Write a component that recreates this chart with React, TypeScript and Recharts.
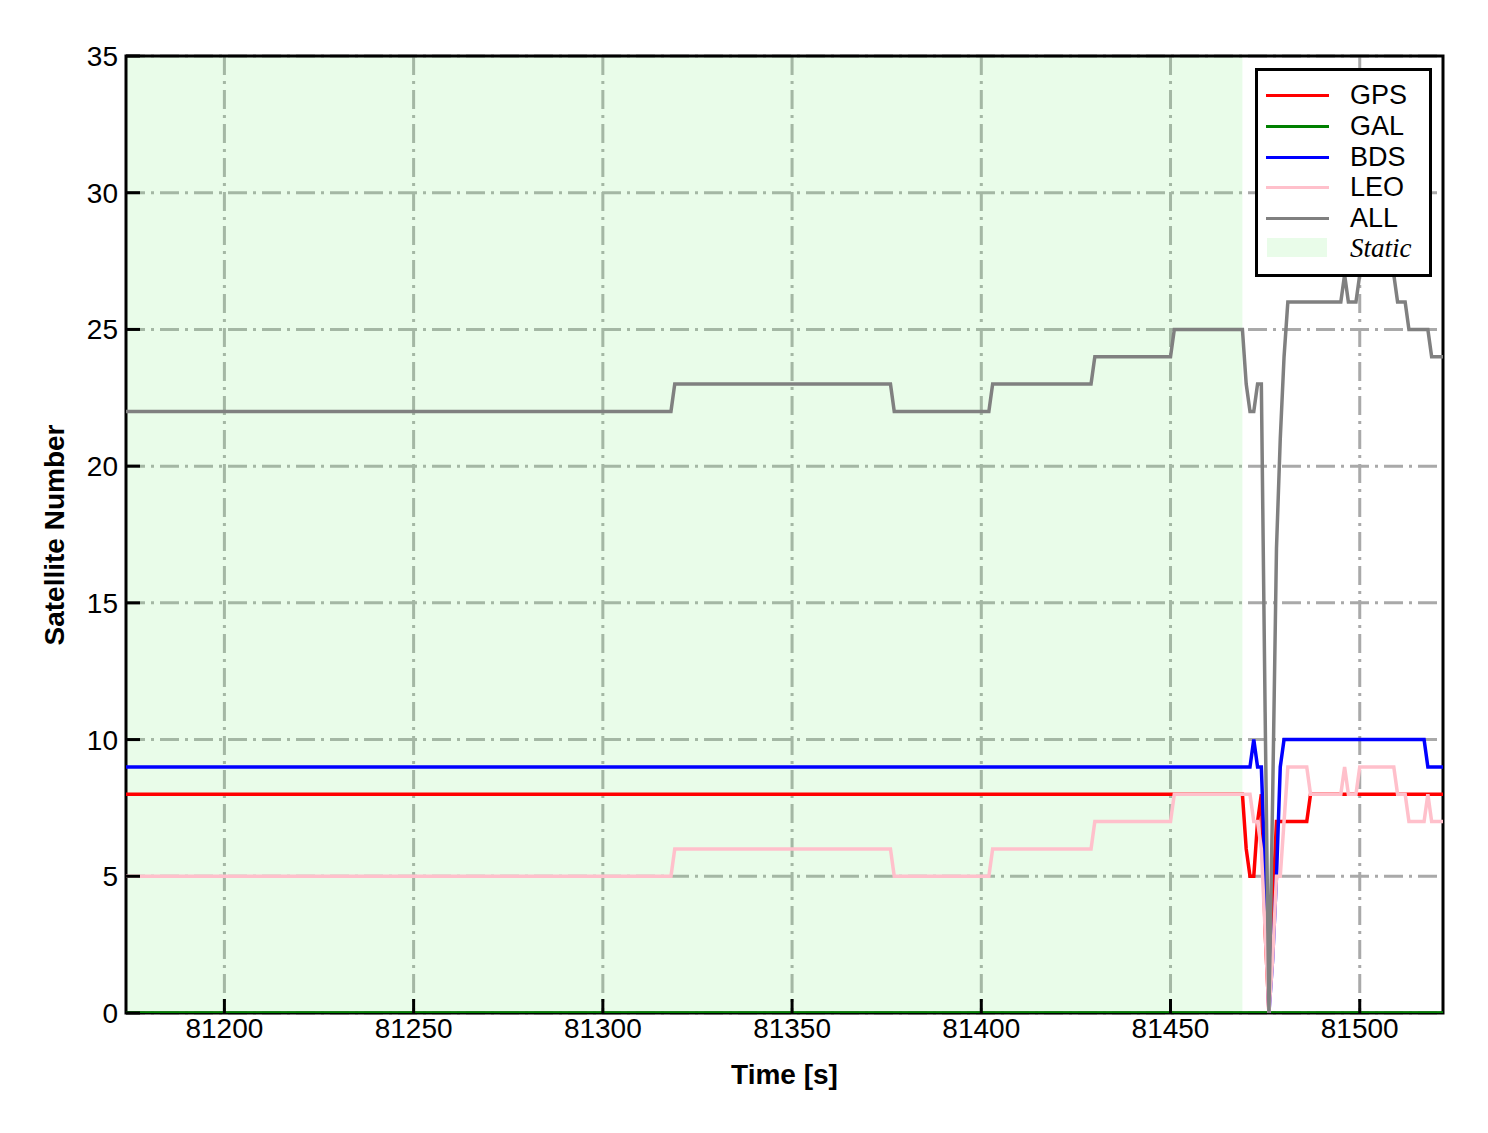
import React from 'react';
import {
  LineChart,
  Line,
  XAxis,
  YAxis,
  CartesianGrid,
  ReferenceArea,
} from 'recharts';

// [time (s), satellite count], one point per change
const gpsPoints: [number, number][] = [
  [81174, 8], [81469, 8], [81470, 6], [81471, 5], [81472, 5], [81473, 7], [81474, 8],
  [81475, 3], [81476, 0], [81477, 4], [81478, 7], [81486, 7], [81487, 8], [81522, 8],
];

const galPoints: [number, number][] = [
  [81174, 0], [81522, 0],
];

const bdsPoints: [number, number][] = [
  [81174, 9], [81471, 9], [81472, 10], [81473, 9], [81474, 9], [81475, 5], [81476, 0],
  [81477, 2], [81478, 5], [81479, 9], [81480, 10], [81517, 10], [81518, 9], [81522, 9],
];

const leoPoints: [number, number][] = [
  [81174, 5], [81318, 5], [81319, 6], [81376, 6], [81377, 5], [81402, 5], [81403, 6],
  [81429, 6], [81430, 7], [81450, 7], [81451, 8], [81471, 8], [81472, 7], [81473, 7],
  [81474, 6], [81475, 3], [81476, 0], [81477, 2], [81478, 5], [81479, 5], [81480, 7],
  [81481, 9], [81486, 9], [81487, 8], [81495, 8], [81496, 9], [81497, 8], [81499, 8],
  [81500, 9], [81509, 9], [81510, 8], [81512, 8], [81513, 7], [81517, 7], [81518, 8],
  [81519, 7], [81522, 7],
];

const allPoints: [number, number][] = [
  [81174, 22], [81318, 22], [81319, 23], [81376, 23], [81377, 22], [81402, 22], [81403, 23],
  [81429, 23], [81430, 24], [81450, 24], [81451, 25], [81469, 25], [81470, 23], [81471, 22],
  [81472, 22], [81473, 23], [81474, 23], [81475, 11], [81476, 0], [81477, 8], [81478, 17],
  [81479, 21], [81480, 24], [81481, 26], [81495, 26], [81496, 27], [81497, 26], [81499, 26],
  [81500, 27], [81509, 27], [81510, 26], [81512, 26], [81513, 25], [81518, 25], [81519, 24],
  [81522, 24],
];

const timeRange = [81174, 81522];
const staticRange = [81174, 81469];
const timeTicks = [81200, 81250, 81300, 81350, 81400, 81450, 81500];
const countTicks = [0, 5, 10, 15, 20, 25, 30, 35];

const series = [
  { name: 'GPS', color: '#ff0000', points: gpsPoints },
  { name: 'GAL', color: '#008000', points: galPoints },
  { name: 'BDS', color: '#0000ff', points: bdsPoints },
  { name: 'LEO', color: '#ffc0cb', points: leoPoints },
  { name: 'ALL', color: '#808080', points: allPoints },
];

const FONT = '"Liberation Sans", Arial, Helvetica, sans-serif';
const TICK_LEN = 14;

const toRows = (pts: [number, number][]) => pts.map(([t, n]) => ({ t, n }));

const XTick = ({ x, y, payload }: any) => (
  <g>
    <line x1={x} y1={y - 5} x2={x} y2={y - 5 - TICK_LEN} stroke="#000" strokeWidth={3} />
    <text x={x} y={y} dy="0.71em" textAnchor="middle" fontSize={28} fill="#000" fontFamily={FONT}>
      {payload.value}
    </text>
  </g>
);

const YTick = ({ x, y, payload }: any) => (
  <g>
    <line x1={x + 8} y1={y} x2={x + 8 + TICK_LEN} y2={y} stroke="#000" strokeWidth={3} />
    <text x={x} y={y} dy="0.355em" textAnchor="end" fontSize={28} fill="#000" fontFamily={FONT}>
      {payload.value}
    </text>
  </g>
);

const Legend = () => (
  <div
    style={{
      position: 'absolute',
      left: 1255,
      top: 68,
      width: 177,
      height: 209,
      boxSizing: 'border-box',
      border: '3px solid #000',
      background: '#fff',
    }}
  >
    {series.map((s, i) => (
      <div key={s.name} style={{ position: 'absolute', left: 0, top: 9 + i * 30.8, height: 30, width: 171 }}>
        <div style={{ position: 'absolute', left: 8, top: 14, width: 63, height: 3, background: s.color }} />
        <span
          style={{
            position: 'absolute',
            left: 92,
            top: 0,
            fontSize: 27,
            lineHeight: '30px',
            fontFamily: FONT,
            color: '#000',
          }}
        >
          {s.name}
        </span>
      </div>
    ))}
    <div style={{ position: 'absolute', left: 9, top: 167, width: 60, height: 19, background: '#e9fce9' }} />
    <span
      style={{
        position: 'absolute',
        left: 92,
        top: 162,
        fontSize: 27,
        lineHeight: '30px',
        fontFamily: '"Liberation Serif", "Times New Roman", serif',
        fontStyle: 'italic',
        color: '#000',
      }}
    >
      Static
    </span>
  </div>
);

const App: React.FC = () => {
  return (
    <div style={{ position: 'absolute', left: 0, top: 0, width: 1488, height: 1133, background: '#fff' }}>
      <LineChart width={1488} height={1133} margin={{ top: 56, right: 45, bottom: 80, left: 66 }}>
        <ReferenceArea
          x1={staticRange[0]}
          x2={staticRange[1]}
          y1={0}
          y2={35}
          fill="#90ee90"
          fillOpacity={0.2}
          stroke="none"
        />
        <CartesianGrid
          stroke="#a9a9a9"
          strokeWidth={3}
          strokeDasharray="19 6 3 6"
          horizontalValues={countTicks}
          verticalValues={timeTicks}
        />
        <XAxis
          dataKey="t"
          type="number"
          domain={timeRange}
          ticks={timeTicks}
          allowDataOverflow
          height={40}
          axisLine={false}
          tickLine={false}
          tickSize={0}
          tickMargin={5}
          tick={<XTick />}
        />
        <YAxis
          type="number"
          domain={[0, 35]}
          ticks={countTicks}
          allowDataOverflow
          width={60}
          axisLine={false}
          tickLine={false}
          tickSize={0}
          tickMargin={8}
          tick={<YTick />}
        />
        {series.map((s) => (
          <Line
            key={s.name}
            data={toRows(s.points)}
            dataKey="n"
            name={s.name}
            type="linear"
            stroke={s.color}
            strokeWidth={3.5}
            dot={false}
            activeDot={false}
            isAnimationActive={false}
          />
        ))}
        <ReferenceArea
          x1={timeRange[0]}
          x2={timeRange[1]}
          y1={0}
          y2={35}
          fill="none"
          stroke="#000"
          strokeWidth={3}
        />
      </LineChart>

      <div
        style={{
          position: 'absolute',
          left: 0,
          width: 1569,
          top: 1059,
          textAlign: 'center',
          fontFamily: FONT,
          fontWeight: 'bold',
          fontSize: 28,
          color: '#000',
        }}
      >
        Time [s]
      </div>
      <div
        style={{
          position: 'absolute',
          left: 55,
          top: 535,
          transform: 'translate(-50%, -50%) rotate(-90deg)',
          whiteSpace: 'nowrap',
          fontFamily: FONT,
          fontWeight: 'bold',
          fontSize: 28,
          color: '#000',
        }}
      >
        Satellite Number
      </div>
      <Legend />
    </div>
  );
};

export default App;
